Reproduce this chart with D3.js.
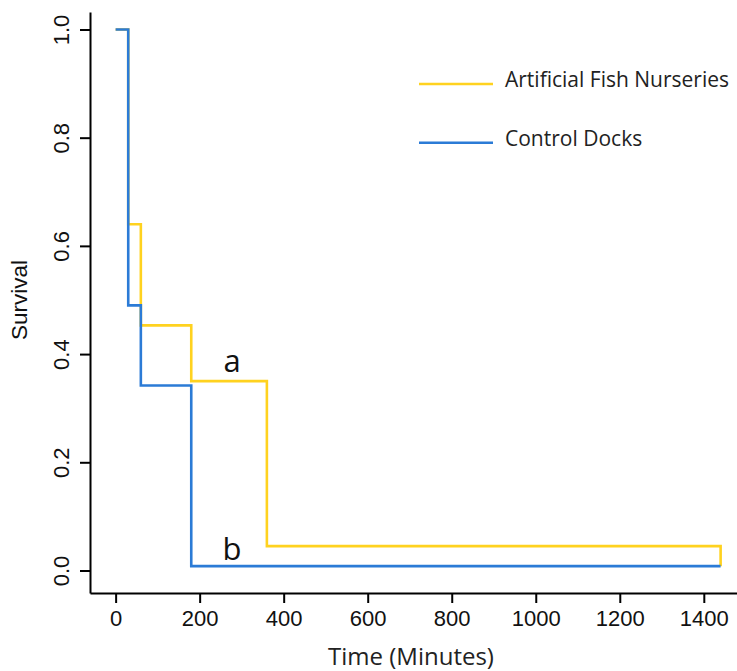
<!DOCTYPE html>
<html>
<head>
<meta charset="utf-8">
<script src="https://cdn.jsdelivr.net/npm/d3@7"></script>
<style>
  body { margin: 0; background: #fff; }
  svg { display: block; }
</style>
</head>
<body>
<div class="canvas"></div>
<script>
// survival steps
var nurseryTimes = [0, 30, 60, 180, 360, 1440],
    nurserySurvival = [1.0, 0.64, 0.453, 0.35, 0.045, 0.008];
var dockTimes = [0, 30, 60, 180, 1440],
    dockSurvival = [1.0, 0.49, 0.342, 0.008, 0.008];
var xTicks = [0, 200, 400, 600, 800, 1000, 1200, 1400],
    yTicks = [0.0, 0.2, 0.4, 0.6, 0.8, 1.0];
var seriesNames = ['Artificial Fish Nurseries', 'Control Docks'],
    seriesColors = ['#ffd21f', '#2b7bd6'];

var width = 737,
    height = 671;

var svg = d3.select('.canvas').append('svg')
    .attr('width', width)
    .attr('height', height);

var x = d3.scaleLinear().domain([-61, 1479]).range([90, 737]);
var y = d3.scaleLinear().domain([-0.0416, 1.0323]).range([593, 12]);

var xAxis = svg.append('g')
    .attr('transform', 'translate(0,593)')
    .call(d3.axisBottom(x).tickValues(xTicks).tickFormat(d3.format('d'))
        .tickSize(10).tickSizeOuter(0).tickPadding(7));
xAxis.selectAll('text')
    .style('font-family', 'Liberation Sans, Arial, sans-serif')
    .style('font-size', '22px')
    .attr('fill', '#111');

var yAxis = svg.append('g')
    .attr('transform', 'translate(90,0)')
    .call(d3.axisLeft(y).tickValues(yTicks).tickFormat(d3.format('.1f')).tickSize(10).tickSizeOuter(0));
// rotated labels like R's las=0
yAxis.selectAll('.tick text')
    .style('font-family', 'Liberation Sans, Arial, sans-serif')
    .style('font-size', '22px')
    .attr('fill', '#111')
    .attr('text-anchor', 'middle')
    .attr('x', 0).attr('y', 0).attr('dy', 0)
    .attr('transform', 'translate(-21,0) rotate(-90)');

svg.selectAll('.domain, .tick line')
    .attr('stroke', '#000')
    .attr('stroke-width', 2);

svg.append('text')
    .attr('transform', 'translate(27,300) rotate(-90)')
    .attr('text-anchor', 'middle')
    .style('font-family', 'Liberation Sans, Arial, sans-serif')
    .style('font-size', '22.5px')
    .attr('fill', '#111')
    .text('Survival');

svg.append('text')
    .attr('x', 411)
    .attr('y', 665)
    .attr('text-anchor', 'middle')
    .style('font-family', 'Open Sans, sans-serif')
    .style('font-size', '24px')
    .attr('fill', '#222')
    .text('Time (Minutes)');

var line = d3.line()
    .x(function (d) { return x(d[0]); })
    .y(function (d) { return y(d[1]); })
    .curve(d3.curveStepAfter);

var series = [d3.zip(nurseryTimes, nurserySurvival), d3.zip(dockTimes, dockSurvival)];

svg.selectAll('path.km')
    .data(series)
    .enter()
    .append('path')
    .attr('class', 'km')
    .attr('d', line)
    .attr('fill', 'none')
    .attr('stroke', function (d, i) { return seriesColors[i]; })
    .attr('stroke-width', 2.6);

// group letters
svg.append('text')
    .attr('x', x(277)).attr('y', y(0.366))
    .attr('text-anchor', 'middle')
    .style('font-family', 'Open Sans, sans-serif')
    .style('font-size', '31px')
    .attr('fill', '#111')
    .text('a');
svg.append('text')
    .attr('x', x(277)).attr('y', y(0.019))
    .attr('text-anchor', 'middle')
    .style('font-family', 'Open Sans, sans-serif')
    .style('font-size', '31px')
    .attr('fill', '#111')
    .text('b');

// legend
var legend = svg.selectAll('g.legend')
    .data(seriesNames)
    .enter()
    .append('g')
    .attr('class', 'legend')
    .attr('transform', function (d, i) { return 'translate(419,' + (84 + i * 58.7) + ')'; });
legend.append('line')
    .attr('x1', 0).attr('x2', 74)
    .attr('stroke', function (d, i) { return seriesColors[i]; })
    .attr('stroke-width', 2.6);
legend.append('text')
    .attr('x', 86)
    .attr('y', 3)
    .style('font-family', 'Open Sans, sans-serif')
    .style('font-size', '21px')
    .attr('fill', '#222')
    .text(function (d) { return d; });
</script>
</body>
</html>
